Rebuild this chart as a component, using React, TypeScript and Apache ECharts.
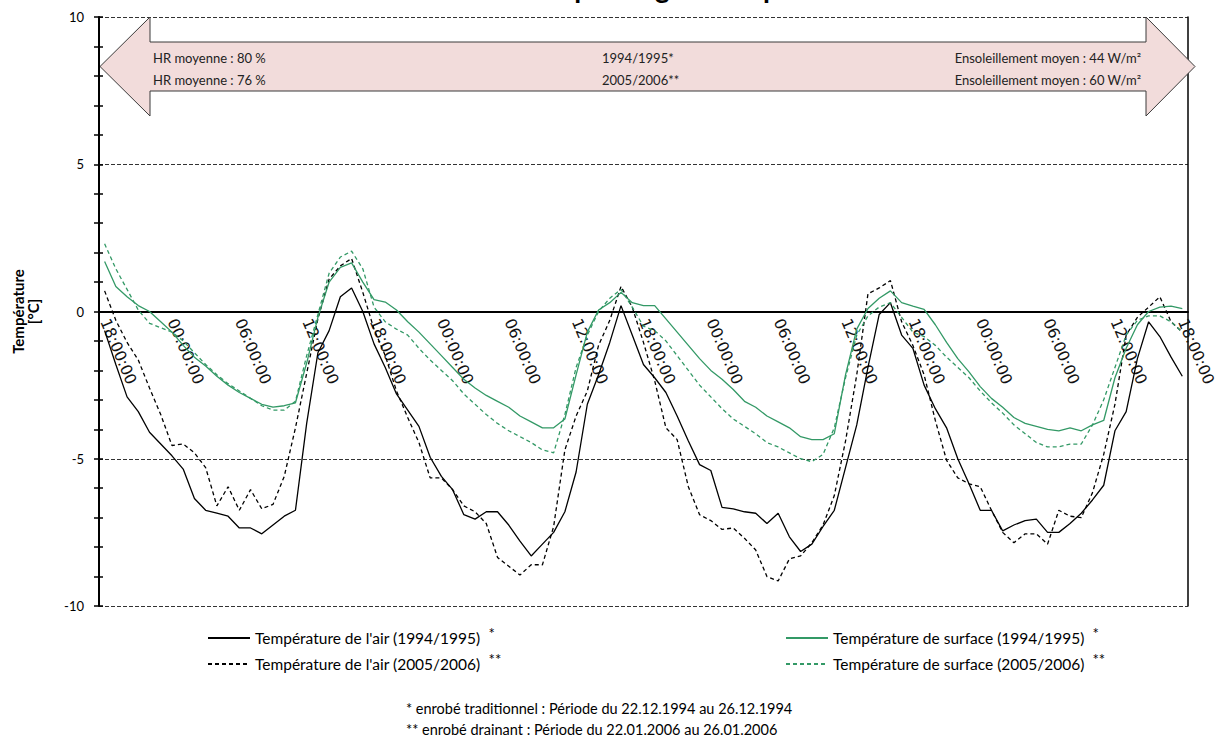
import React, { useEffect, useRef } from "react";
import * as echarts from "echarts";

// Hourly readings, 18:00 on day 1 to 18:00 on day 5 (97 steps).
const firstHour = 18;
const hourCount = 97;
const hourLabels: string[] = Array.from({ length: hourCount }, (_, i) => {
  const h = (firstHour + i) % 24;
  return `${String(h).padStart(2, "0")}:00:00`;
});

const NAME_AIR_94 = "Température de l'air (1994/1995)";
const NAME_SURF_94 = "Température de surface (1994/1995)";
const NAME_AIR_05 = "Température de l'air (2005/2006)";
const NAME_SURF_05 = "Température de surface (2005/2006)";

// Air temperature, traditional surfacing, 22.12–26.12.1994 [°C]
const airTrad: number[] = [
  -0.65, -1.8, -2.9, -3.4, -4.1, -4.5, -4.9, -5.35, -6.35, -6.75, -6.85, -6.95,
  -7.35, -7.35, -7.55, -7.25, -6.95, -6.75, -3.8, -1.4, -0.65, 0.5, 0.8, 0.0,
  -1.1, -1.9, -2.8, -3.35, -3.9, -4.95, -5.6, -6.05, -6.9, -7.05, -6.8, -6.8,
  -7.25, -7.8, -8.3, -7.9, -7.5, -6.8, -5.45, -3.15, -2.15, -1.05, 0.2, -0.8,
  -1.8, -2.25, -2.75, -3.55, -4.4, -5.2, -5.4, -6.65, -6.7, -6.8, -6.85, -7.2,
  -6.85, -7.65, -8.15, -7.9, -7.3, -6.75, -5.3, -3.85, -1.9, -0.1, 0.3, -0.8,
  -1.25, -2.5, -3.3, -3.95, -5.0, -5.85, -6.75, -6.75, -7.45, -7.25, -7.1, -7.05,
  -7.5, -7.5, -7.2, -6.85, -6.4, -5.9, -4.05, -3.4, -1.6, -0.35, -0.85, -1.55,
  -2.2,
];

// Air temperature, draining surfacing, 22.01–26.01.2006 [°C]
const airDrain: number[] = [
  0.7, -0.3, -1.05, -1.65, -2.6, -3.5, -4.55, -4.5, -4.8, -5.3, -6.6, -5.95,
  -6.75, -6.05, -6.7, -6.55, -5.6, -3.95, -2.1, -0.25, 1.1, 1.55, 1.8, 0.65,
  -0.6, -1.5, -2.7, -3.6, -4.45, -5.65, -5.65, -6.05, -6.6, -6.8, -7.2, -8.35,
  -8.65, -8.95, -8.6, -8.6, -7.3, -4.7, -3.55, -2.7, -1.15, -0.3, 0.85, 0.15,
  -1.05, -2.35, -3.95, -4.35, -5.95, -6.9, -7.1, -7.4, -7.35, -7.7, -8.1, -9.0,
  -9.15, -8.4, -8.3, -7.85, -7.25, -6.25, -4.4, -2.15, 0.6, 0.8, 1.05, -0.35,
  -1.15, -2.15, -3.7, -5.05, -5.65, -5.85, -5.95, -6.75, -7.5, -7.85, -7.55, -7.55,
  -7.9, -6.75, -6.95, -7.0, -6.15, -4.85, -3.15, -0.8, -0.2, 0.15, 0.5, -0.35,
  -0.7,
];

// Surface temperature, traditional surfacing [°C]
const surfTrad: number[] = [
  1.7, 0.85, 0.5, 0.2, 0.0, -0.35, -0.7, -1.15, -1.55, -1.85, -2.2, -2.5,
  -2.75, -2.95, -3.15, -3.25, -3.2, -3.1, -1.75, -0.2, 1.0, 1.5, 1.65, 1.0,
  0.4, 0.32, 0.05, -0.35, -0.7, -1.1, -1.5, -1.9, -2.3, -2.6, -2.85, -3.05,
  -3.25, -3.55, -3.75, -3.95, -3.95, -3.65, -2.15, -0.7, 0.05, 0.3, 0.65, 0.3,
  0.2, 0.2, -0.25, -0.7, -1.15, -1.6, -2.0, -2.3, -2.65, -3.05, -3.25, -3.55,
  -3.75, -3.95, -4.25, -4.35, -4.35, -4.15, -2.15, -0.6, 0.1, 0.45, 0.7, 0.3,
  0.18, 0.07, -0.45, -1.05, -1.6, -2.05, -2.55, -2.95, -3.25, -3.6, -3.8, -3.9,
  -4.0, -4.05, -3.95, -4.05, -3.85, -3.7, -2.25, -1.25, -0.45, 0.0, 0.15, 0.18,
  0.1,
];

// Surface temperature, draining surfacing [°C]
const surfDrain: number[] = [
  2.3, 1.45, 0.75, 0.05, -0.4, -0.55, -0.7, -1.0, -1.4, -1.8, -2.15, -2.45,
  -2.7, -2.95, -3.2, -3.35, -3.35, -3.05, -1.5, -0.1, 1.3, 1.85, 2.05, 1.45,
  0.15, -0.35, -0.6, -0.8, -1.25, -1.65, -2.0, -2.35, -2.8, -3.15, -3.5, -3.8,
  -4.05, -4.25, -4.45, -4.7, -4.8, -3.5, -1.9, -0.8, 0.0, 0.45, 0.75, 0.15,
  -0.5, -0.65, -1.0, -1.5, -2.0, -2.5, -2.9, -3.3, -3.65, -3.9, -4.15, -4.45,
  -4.6, -4.8, -5.0, -5.1, -4.85, -3.95, -2.25, -0.8, -0.15, 0.15, 0.3, -0.2,
  -0.7, -0.85, -1.15, -1.55, -1.9, -2.25, -2.7, -3.1, -3.45, -3.85, -4.15, -4.45,
  -4.6, -4.6, -4.5, -4.5, -3.85, -3.0, -1.9, -0.8, -0.3, -0.15, -0.15, -0.35,
  -0.7,
];

const yMin = -10;
const yMax = 10;
const yStep = 5;

const GREEN = "#339966";
const FONT = "Lato";

const arrowLeftTexts = ["HR moyenne : 80 %", "HR moyenne : 76 %"];
const arrowMidTexts = ["1994/1995*", "2005/2006**"];
const arrowRightTexts = ["Ensoleillement moyen : 44 W/m²", "Ensoleillement moyen : 60 W/m²"];
const footnotes = [
  "* enrobé traditionnel : Période du 22.12.1994 au 26.12.1994",
  "** enrobé drainant : Période du 22.01.2006 au 26.01.2006",
];
const titleText = "Période de froid prolongé – temps clair";
const yAxisTitleLines = ["Température", "[°C]"];

function textWidth(text: string, font: string): number {
  const ctx = document.createElement("canvas").getContext("2d");
  if (!ctx) return text.length * 7;
  ctx.font = font;
  return ctx.measureText(text).width;
}

export default function App() {
  const ref = useRef<HTMLDivElement>(null);

  useEffect(() => {
    if (!ref.current) return;
    const chart = echarts.init(ref.current, undefined, { renderer: "svg" });

    const gridLeft = 99;
    const gridTop = 17;
    const gridBottom = 138;
    const gridHeight = 744 - gridTop - gridBottom;
    // Category axis sits on the 0 °C line: shift it up from the plot's bottom edge.
    const zeroOffset = -gridHeight * ((0 - yMin) / (yMax - yMin));
    const zeroY = gridTop + gridHeight + zeroOffset;

    const legendFontSize = 15.5;
    const legendFont = `${legendFontSize}px ${FONT}`;
    const sampleWidth = 42;
    const legendRows = [
      { name: NAME_AIR_94, left: 207, top: 630, star: "*" },
      { name: NAME_SURF_94, left: 785, top: 630, star: "*" },
      { name: NAME_AIR_05, left: 207, top: 656, star: "**" },
      { name: NAME_SURF_05, left: 785, top: 656, star: "**" },
    ];

    const legends = legendRows.map((r) => ({
      data: [r.name],
      left: r.left,
      top: r.top,
      padding: 0,
      itemWidth: sampleWidth,
      itemHeight: 12,
      selectedMode: false,
      itemStyle: { opacity: 0 },
      textStyle: { fontFamily: FONT, fontSize: legendFontSize, color: "#000" },
    }));

    const stars = legendRows.map((r) => ({
      type: "text",
      x: r.left + sampleWidth + 5 + textWidth(r.name, legendFont) + 9,
      y: r.top + 3,
      style: {
        text: r.star,
        fontFamily: FONT,
        fontSize: 15,
        fill: "#000",
        verticalAlign: "middle",
        align: "left",
      },
    }));

    // Double-headed arrow band across the top of the plot
    const arrowPoints = [
      [100, 66.5],
      [150, 17],
      [150, 42],
      [1146, 42],
      [1146, 17],
      [1195, 66.5],
      [1146, 116],
      [1146, 91],
      [150, 91],
      [150, 116],
    ];
    const rowY = [58, 80];
    const bandText = (text: string, x: number, y: number, align: string) => ({
      type: "text",
      x,
      y,
      z: 101,
      style: {
        text,
        fontFamily: FONT,
        fontSize: 13,
        fill: "#222",
        align,
        verticalAlign: "middle",
      },
    });

    const yTitle = yAxisTitleLines.map((t, i) => ({
      type: "text",
      x: 18 + i * 15,
      y: zeroY,
      rotation: Math.PI / 2,
      style: {
        text: t,
        fontFamily: FONT,
        fontWeight: "bold",
        fontSize: 15,
        fill: "#000",
        align: "center",
        verticalAlign: "middle",
      },
    }));

    const graphic: any[] = [
      {
        type: "text",
        x: 609,
        y: -13,
        style: {
          text: titleText,
          fontFamily: FONT,
          fontWeight: "bold",
          fontSize: 28,
          fill: "#000",
          align: "center",
          verticalAlign: "middle",
        },
      },
      ...yTitle,
      {
        type: "polygon",
        z: 100,
        shape: { points: arrowPoints },
        style: { fill: "#f2dcdb", stroke: "#3a3a3a", lineWidth: 1 },
      },
      ...arrowLeftTexts.map((t, i) => bandText(t, 153, rowY[i], "left")),
      ...arrowMidTexts.map((t, i) => bandText(t, 602, rowY[i], "left")),
      ...arrowRightTexts.map((t, i) => bandText(t, 1141, rowY[i], "right")),
      ...stars,
      ...footnotes.map((t, i) => ({
        type: "text",
        x: 406,
        y: 708 + i * 21,
        style: {
          text: t,
          fontFamily: FONT,
          fontSize: 14.5,
          fill: "#000",
          align: "left",
          verticalAlign: "middle",
        },
      })),
    ];

    const xBase = {
      type: "category",
      data: hourLabels,
      boundaryGap: true,
      position: "bottom",
      offset: zeroOffset,
    };

    const yBase = {
      type: "value",
      min: yMin,
      max: yMax,
      interval: yStep,
    };

    const tickStyle = { color: "#000", width: 1.5 };

    chart.setOption({
      animation: false,
      grid: { left: gridLeft, right: 23, top: gridTop, bottom: gridBottom, containLabel: false },
      legend: legends,
      graphic,
      xAxis: [
        {
          ...xBase,
          axisLine: { onZero: false, lineStyle: { color: "#000", width: 2 } },
          axisTick: { interval: 2, length: 4, lineStyle: tickStyle },
          axisLabel: {
            interval: 5,
            rotate: -67,
            margin: 8,
            fontFamily: "DejaVu Sans",
            fontSize: 15.5,
            color: "#111",
          },
          splitLine: { show: false },
        },
        {
          ...xBase,
          axisLine: { show: false, onZero: false },
          axisTick: { interval: 2, length: 4, inside: true, lineStyle: tickStyle },
          axisLabel: { show: false },
          splitLine: { show: false },
        },
      ],
      yAxis: [
        {
          ...yBase,
          position: "left",
          axisLine: { show: true, lineStyle: { color: "#000", width: 2 } },
          axisTick: { show: true, length: 5, lineStyle: tickStyle },
          minorTick: { show: true, splitNumber: 5, length: 5, lineStyle: tickStyle },
          axisLabel: { margin: 15, fontFamily: FONT, fontSize: 13, color: "#000" },
          splitLine: {
            show: true,
            lineStyle: { color: "#333", width: 1, type: [4, 2] },
          },
        },
        {
          ...yBase,
          position: "left",
          axisLine: { show: false },
          axisTick: { show: true, inside: true, length: 4, lineStyle: tickStyle },
          minorTick: { show: true, splitNumber: 5, length: 4, lineStyle: tickStyle },
          axisLabel: { show: false },
          splitLine: { show: false },
        },
        {
          ...yBase,
          position: "right",
          axisLine: { show: true, lineStyle: { color: "#000", width: 1.5 } },
          axisTick: { show: false },
          axisLabel: { show: false },
          splitLine: { show: false },
        },
      ],
      series: [
        {
          name: NAME_AIR_94,
          type: "line",
          data: airTrad,
          symbol: "none",
          lineStyle: { color: "#000", width: 1.3, type: "solid" },
          itemStyle: { color: "#000" },
        },
        {
          name: NAME_AIR_05,
          type: "line",
          data: airDrain,
          symbol: "none",
          lineStyle: { color: "#000", width: 1.3, type: [4, 3] },
          itemStyle: { color: "#000" },
        },
        {
          name: NAME_SURF_94,
          type: "line",
          data: surfTrad,
          symbol: "none",
          lineStyle: { color: GREEN, width: 1.3, type: "solid" },
          itemStyle: { color: GREEN },
        },
        {
          name: NAME_SURF_05,
          type: "line",
          data: surfDrain,
          symbol: "none",
          lineStyle: { color: GREEN, width: 1.3, type: [4, 3] },
          itemStyle: { color: GREEN },
        },
      ],
    });

    return () => chart.dispose();
  }, []);

  return (
    <div
      ref={ref}
      style={{ position: "fixed", left: 0, top: 0, width: 1218, height: 744, background: "#fff" }}
    />
  );
}
